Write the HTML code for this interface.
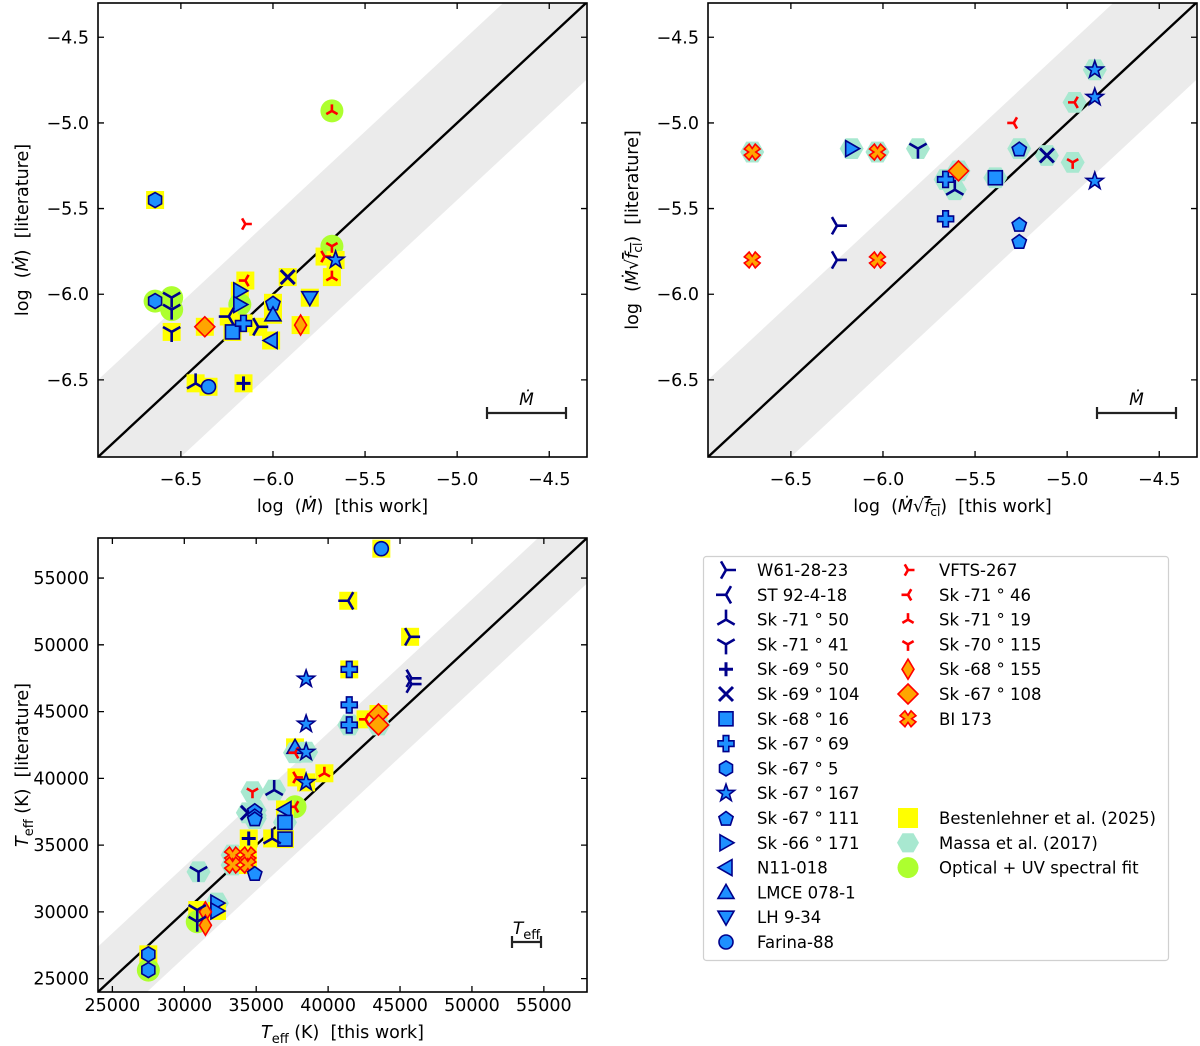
<!DOCTYPE html>
<html><head><meta charset="utf-8">
<style>
html,body{margin:0;padding:0;background:#fff;overflow:hidden;}
svg{display:block;font-family:"DejaVu Sans","Liberation Sans",sans-serif;}
</style></head>
<body>
<svg id="fig" width="1200" height="1046" viewBox="0 0 1200 1046" xmlns="http://www.w3.org/2000/svg">
<defs>
<clipPath id="c1"><rect x="98" y="3" width="489" height="454"/></clipPath>
<clipPath id="c2"><rect x="708" y="3" width="489" height="454"/></clipPath>
<clipPath id="c3"><rect x="98" y="538" width="489" height="454"/></clipPath>
</defs>
<g id="p1"></g>
<g id="p2"></g>
<g id="p3"></g>
<g id="legend"></g>
</svg>
<script>
// ---- Panel 1 data: log Mdot (this work vs literature)
const p1Marker = ['hex','rtri_r','rtri_u','hex','tri_d','tri_d','tri_d','diam','rtri_l','tr','tr','tri_l','square','pplus','tri_r','tl','pent','tu','x','td','dthin','rtri_r','rtri_u','rtri_d','star','tri_u','circle','plus'];
const p1Bg     = ['Y','','G','G','G','G','Y','Y','Y','Y','G','Y','Y','Y','Y','Y','Y','Y','Y','Y','Y','Y','Y','G','Y','Y','Y','Y'];
const p1X = [-6.64,-6.15,-5.68,-6.64,-6.55,-6.55,-6.55,-6.37,-6.15,-6.18,-6.18,-6.24,-6.22,-6.16,-6.08,-6.01,-6.00,-6.00,-5.92,-5.80,-5.85,-5.72,-5.68,-5.68,-5.66,-6.42,-6.35,-6.16];
const p1Y = [-5.45,-5.59,-4.93,-6.04,-6.02,-6.09,-6.22,-6.19,-5.92,-5.98,-6.06,-6.13,-6.22,-6.17,-6.19,-6.27,-6.05,-6.12,-5.90,-6.02,-6.18,-5.78,-5.90,-5.72,-5.80,-6.52,-6.54,-6.52];
const p1Ticks = [-6.5,-6.0,-5.5,-5.0,-4.5];
const p1TickLabels = ['−6.5','−6.0','−5.5','−5.0','−4.5'];

// ---- Panel 2 data: log Mdot sqrt(fcl)
const p2Marker = ['xfill','xfill','tri_r','tri_r','tr','xfill','xfill','tri_d','pplus','pplus','diam','tri_u','square','rtri_l','pent','pent','pent','x','rtri_d','rtri_l','star','star','star'];
const p2Bg     = ['M','','','','M','M','','M','M','','M','M','M','','M','','','M','M','M','','','M'];
const p2X = [-6.71,-6.71,-6.25,-6.25,-6.17,-6.03,-6.03,-5.81,-5.66,-5.66,-5.59,-5.61,-5.39,-5.29,-5.26,-5.26,-5.26,-5.11,-4.97,-4.96,-4.85,-4.85,-4.85];
const p2Y = [-5.17,-5.80,-5.60,-5.80,-5.15,-5.17,-5.80,-5.15,-5.33,-5.56,-5.28,-5.39,-5.32,-5.00,-5.15,-5.59,-5.69,-5.19,-5.23,-4.88,-5.34,-4.85,-4.69];

// ---- Panel 3 data: Teff
const p3Marker = ['circle','tri_l','tri_r','pplus','star','tri_r','tri_r','pplus','pplus','star','rtri_l','diam','diam','tu','rtri_l','star','rtri_r','star','rtri_u','rtri_d','tri_u','rtri_l','tl','x','pent','pent','pent','square','square','tri_u','plus','xfill','xfill','xfill','xfill','pent','tri_d','tr','tr','dthin','dthin','tri_d','tri_d','hex','hex'];
const p3Bg     = ['Y','Y','Y','Y','','','','','M','','Y','Y','M','Y','M','M','Y','Y','Y','M','M','G','Y','M','M','M','M','M','Y','Y','Y','M','M','Y','Y','','M','M','Y','','','Y','G','Y','G'];
const p3X = [43700,41400,45700,41470,38470,45800,45800,41470,41470,38470,42600,43500,43500,37700,37700,38470,37800,38470,39740,34740,36250,37700,37000,34420,34900,34900,34900,37000,37000,36110,34480,33360,33360,34420,34420,34900,30990,32270,32270,31470,31470,30900,30900,27500,27500];
const p3Y = [57200,53300,50600,48160,47440,47490,47060,45500,44000,44070,44420,44820,44000,42320,41920,41960,40070,39700,40380,39000,39130,37870,37670,37420,37610,37210,36990,36700,35450,35500,35500,34260,33510,34260,33510,32900,33000,30660,30070,30000,29000,30140,29260,26820,25640];
const p3Ticks = [25000,30000,35000,40000,45000,50000,55000];

// ---- Legend
const legNames1 = ['W61-28-23','ST 92-4-18','Sk -71 ° 50','Sk -71 ° 41','Sk -69 ° 50','Sk -69 ° 104','Sk -68 ° 16','Sk -67 ° 69','Sk -67 ° 5','Sk -67 ° 167','Sk -67 ° 111','Sk -66 ° 171','N11-018','LMCE 078-1','LH 9-34','Farina-88'];
const legMark1  = ['tri_r','tri_l','tri_u','tri_d','plus','x','square','pplus','hex','star','pent','tr','tl','tu','td','circle'];
const legNames2 = ['VFTS-267','Sk -71 ° 46','Sk -71 ° 19','Sk -70 ° 115','Sk -68 ° 155','Sk -67 ° 108','BI 173'];
const legMark2  = ['rtri_r','rtri_l','rtri_u','rtri_d','dthin','diam','xfill'];
const legSrc = ['Bestenlehner et al. (2025)','Massa et al. (2017)','Optical + UV spectral fit'];
const legSrcBg = ['Y','M','G'];

const NS='http://www.w3.org/2000/svg';
const NAVY='#00008b', BLUE='#1e90ff', RED='#ff0000', ORANGE='#ffa500';
function mk(tag, attrs, parent){const e=document.createElementNS(NS,tag);for(const k in attrs)e.setAttribute(k,attrs[k]);if(parent)parent.appendChild(e);return e;}
function lin(d0,d1,r0,r1){return v=>r0+(v-d0)/(d1-d0)*(r1-r0);}
function poly(pts){return pts.map(p=>p[0].toFixed(2)+','+p[1].toFixed(2)).join(' ');}

function drawBg(g,bg,cx,cy){
  let e=null;
  if(bg==='Y'){e=mk('rect',{x:cx-9,y:cy-9,width:18,height:18,fill:'#ffff00'},g);}
  else if(bg==='M'){const p=[];for(let i=0;i<6;i++){const a=Math.PI/3*i;p.push([cx+12*Math.cos(a),cy+12*Math.sin(a)]);}e=mk('polygon',{points:poly(p),fill:'#a8e8d0'},g);}
  else if(bg==='G'){e=mk('circle',{cx:cx,cy:cy,r:11.5,fill:'#adff2f'},g);}
  if(e){
  }
}
function tri(g,cx,cy,dir,s,col,w){
  const ang={d:90,u:-90,r:0,l:180}[dir];
  const path=[];
  for(let i=0;i<3;i++){const a=(ang+120*i)*Math.PI/180;path.push('M'+cx+','+cy+'L'+(cx+s*Math.cos(a)).toFixed(2)+','+(cy+s*Math.sin(a)).toFixed(2));}
  return mk('path',{d:path.join(''),stroke:col,'stroke-width':w,fill:'none'},g);
}
function drawMarker(g,type,cx,cy){
  let e;
  const blue={fill:BLUE,stroke:NAVY,'stroke-width':1.6};
  if(type.startsWith('tri_')) e=tri(g,cx,cy,type[4],10,NAVY,2.6);
  else if(type.startsWith('rtri_')) e=tri(g,cx,cy,type[5],6.5,RED,2.6);
  else if(type==='plus') e=mk('path',{d:`M${cx-7},${cy}H${cx+7}M${cx},${cy-7}V${cy+7}`,stroke:NAVY,'stroke-width':3,fill:'none'},g);
  else if(type==='x') e=mk('path',{d:`M${cx-7},${cy-7}L${cx+7},${cy+7}M${cx-7},${cy+7}L${cx+7},${cy-7}`,stroke:NAVY,'stroke-width':3,fill:'none'},g);
  else if(type==='square') e=mk('rect',Object.assign({x:cx-7,y:cy-7,width:14,height:14},blue),g);
  else if(type==='pplus'){const a=2.8,b=8;e=mk('polygon',Object.assign({points:poly([[cx-a,cy-b],[cx+a,cy-b],[cx+a,cy-a],[cx+b,cy-a],[cx+b,cy+a],[cx+a,cy+a],[cx+a,cy+b],[cx-a,cy+b],[cx-a,cy+a],[cx-b,cy+a],[cx-b,cy-a],[cx-a,cy-a]])},blue),g);}
  else if(type==='xfill'){const p=[];const r1=8.5,r2=3.6;for(let i=0;i<4;i++){const a=(45+90*i)*Math.PI/180;const da=0.42;p.push([cx+r1*Math.cos(a-da),cy+r1*Math.sin(a-da)]);p.push([cx+r1*Math.cos(a+da),cy+r1*Math.sin(a+da)]);const m=a+Math.PI/4;p.push([cx+r2*Math.cos(m),cy+r2*Math.sin(m)]);}
    e=mk('polygon',{points:poly(p),fill:ORANGE,stroke:RED,'stroke-width':1.6},g);}
  else if(type==='hex'){const p=[];for(let i=0;i<6;i++){const a=(30+60*i)*Math.PI/180;p.push([cx+7.5*Math.cos(a),cy+7.5*Math.sin(a)]);}e=mk('polygon',Object.assign({points:poly(p)},blue),g);}
  else if(type==='pent'){const p=[];for(let i=0;i<5;i++){const a=(-90+72*i)*Math.PI/180;p.push([cx+7.5*Math.cos(a),cy+1+7.5*Math.sin(a)]);}e=mk('polygon',Object.assign({points:poly(p)},blue),g);}
  else if(type==='star'){const p=[];for(let i=0;i<10;i++){const a=(-90+36*i)*Math.PI/180;const r=i%2?3.6:9;p.push([cx+r*Math.cos(a),cy+r*Math.sin(a)]);}e=mk('polygon',Object.assign({points:poly(p)},blue),g);}
  else if(type==='circle') e=mk('circle',Object.assign({cx:cx,cy:cy,r:7},blue),g);
  else if(type==='tr') e=mk('polygon',Object.assign({points:poly([[cx-6,cy-8],[cx+8,cy],[cx-6,cy+8]])},blue),g);
  else if(type==='tl') e=mk('polygon',Object.assign({points:poly([[cx+6,cy-8],[cx-8,cy],[cx+6,cy+8]])},blue),g);
  else if(type==='tu') e=mk('polygon',Object.assign({points:poly([[cx-8,cy+6],[cx,cy-8],[cx+8,cy+6]])},blue),g);
  else if(type==='td') e=mk('polygon',Object.assign({points:poly([[cx-8,cy-6],[cx,cy+8],[cx+8,cy-6]])},blue),g);
  else if(type==='diam') e=mk('polygon',{points:poly([[cx,cy-10],[cx+10,cy],[cx,cy+10],[cx-10,cy]]),fill:ORANGE,stroke:RED,'stroke-width':1.6},g);
  else if(type==='dthin') e=mk('polygon',{points:poly([[cx,cy-10],[cx+6,cy],[cx,cy+10],[cx-6,cy]]),fill:ORANGE,stroke:RED,'stroke-width':1.6},g);
  
  
  return e;
}

function panel(gid,clip,L,T,W,H,d0,d1,ticks,tickLabels,band,mk_,bg_,xs,ys,xlabel,ylabel,ylx,errLabel,errX0,errX1,errY,tickOff,labOff){
  const g=document.getElementById(gid);
  const sx=lin(d0[0],d0[1],L,L+W), sy=lin(d1[0],d1[1],T+H,T);
  const inner=mk('g',{'clip-path':'url(#'+clip+')'},g);
  const lo=Math.min(d0[0],d1[0])-band*3, hi=Math.max(d0[1],d1[1])+band*3;
  const b=mk('polygon',{points:poly([[sx(lo),sy(lo+band)],[sx(hi),sy(hi+band)],[sx(hi),sy(hi-band)],[sx(lo),sy(lo-band)]]),fill:'#ebebeb'},inner);
  
  
  const l=mk('line',{x1:sx(lo),y1:sy(lo),x2:sx(hi),y2:sy(hi),stroke:'#000','stroke-width':2.4},inner);
  
  
  for(let i=0;i<xs.length;i++) drawBg(inner,bg_[i],sx(xs[i]),sy(ys[i]));
  for(let i=0;i<xs.length;i++) drawMarker(inner,mk_[i],sx(xs[i]),sy(ys[i]));
  const fr=mk('rect',{x:L,y:T,width:W,height:H,fill:'none',stroke:'#000','stroke-width':1.6},g);
  
  
  ticks.forEach((t,i)=>{
    const x=sx(t), y=sy(t);
    mk('path',{d:`M${x},${T+H}v-6M${x},${T}v6M${L},${y}h6M${L+W},${y}h-6`,stroke:'#000','stroke-width':1.3},g);
    if(x>=L-1&&x<=L+W+1){const tx=mk('text',{x:x,y:T+H+tickOff,'font-size':17.5,'text-anchor':'middle'},g);tx.textContent=tickLabels[i];
      
      }
    if(y>=T-1&&y<=T+H+1){const ty=mk('text',{x:L-9,y:y+6,'font-size':17.5,'text-anchor':'end'},g);ty.textContent=tickLabels[i];
      
      }
  });
  const xl=mk('text',{x:L+W/2,y:T+H+labOff,'font-size':17.5,'text-anchor':'middle'},g);xl.innerHTML=xlabel;
  
  
  const yl=mk('text',{x:ylx,y:T+H/2,'font-size':17.5,'text-anchor':'middle',transform:`rotate(-90 ${ylx} ${T+H/2})`},g);yl.innerHTML=ylabel;
  
  
  const eb=mk('path',{d:`M${errX0},${errY}H${errX1}M${errX0},${errY-6}v12M${errX1},${errY-6}v12`,stroke:'#222','stroke-width':2.2,fill:'none'},g);
  
  
  const et=mk('text',{x:(errX0+errX1)/2,y:errY-8,'font-size':17,'text-anchor':'middle'},g);et.innerHTML=errLabel;
  
  
}

const SP='\u00a0\u00a0';
const MD='<tspan font-style="italic">Ṁ</tspan>';
const MF=MD+'√<tspan text-decoration="overline"><tspan font-style="italic">f</tspan><tspan font-size="12" dy="4">cl</tspan></tspan><tspan dy="-4">)</tspan>';
const TE='<tspan font-style="italic">T</tspan><tspan font-size="13" dy="5">eff</tspan><tspan dy="-5">';
panel('p1','c1',98,3,489,454,[-6.95,-4.295],[-6.95,-4.30],p1Ticks,p1TickLabels,0.45,p1Marker,p1Bg,p1X,p1Y,
  'log'+SP+'('+MD+')'+SP+'[this work]','log'+SP+'('+MD+')'+SP+'[literature]',28,MD,487,566,413,28,55);
panel('p2','c2',708,3,489,454,[-6.95,-4.295],[-6.95,-4.30],p1Ticks,p1TickLabels,0.45,p2Marker,p2Bg,p2X,p2Y,
  'log'+SP+'('+MF+SP+'[this work]','log'+SP+'('+MF+SP+'[literature]',638,MD,1097,1176,413,28,55);
panel('p3','c3',98,538,489,454,[24000,58000],[24000,58000],p3Ticks,p3Ticks.map(String),3400,p3Marker,p3Bg,p3X,p3Y,
  TE+' (K)'+SP+'[this work]</tspan>',TE+' (K)'+SP+'[literature]</tspan>',28,TE+'</tspan>',512,541,942,19,46);

// Legend
(function(){
  const g=document.getElementById('legend');
  const box=mk('rect',{x:703.5,y:556.5,width:465,height:404,rx:3,fill:'#fff',stroke:'#d0d0d0','stroke-width':1.2},g);
  
  
  const dy=24.8;
  legNames1.forEach((n,i)=>{const y=570+dy*i;drawMarker(g,legMark1[i],726,y);
    const t=mk('text',{x:757,y:y+6,'font-size':16.5},g);t.textContent=n;
    
    });
  legNames2.forEach((n,i)=>{const y=570+dy*i;drawMarker(g,legMark2[i],908,y);
    const t=mk('text',{x:939,y:y+6,'font-size':16.5},g);t.textContent=n;
    
    });
  legSrc.forEach((n,i)=>{const y=818+dy*i;const cx=908;
    if(legSrcBg[i]==='Y'){const r=mk('rect',{x:cx-10,y:y-10,width:20,height:20,fill:'#ffff00'},g);}
    else if(legSrcBg[i]==='M'){const p=[];for(let k=0;k<6;k++){const a=Math.PI/3*k;p.push([cx+11*Math.cos(a),y+11*Math.sin(a)]);}const r=mk('polygon',{points:poly(p),fill:'#a8e8d0'},g);}
    else {const r=mk('circle',{cx:cx,cy:y,r:10.5,fill:'#adff2f'},g);}
    const t=mk('text',{x:939,y:y+6,'font-size':16.5},g);t.textContent=n;
    
    });
})();
</script>
</body></html>
